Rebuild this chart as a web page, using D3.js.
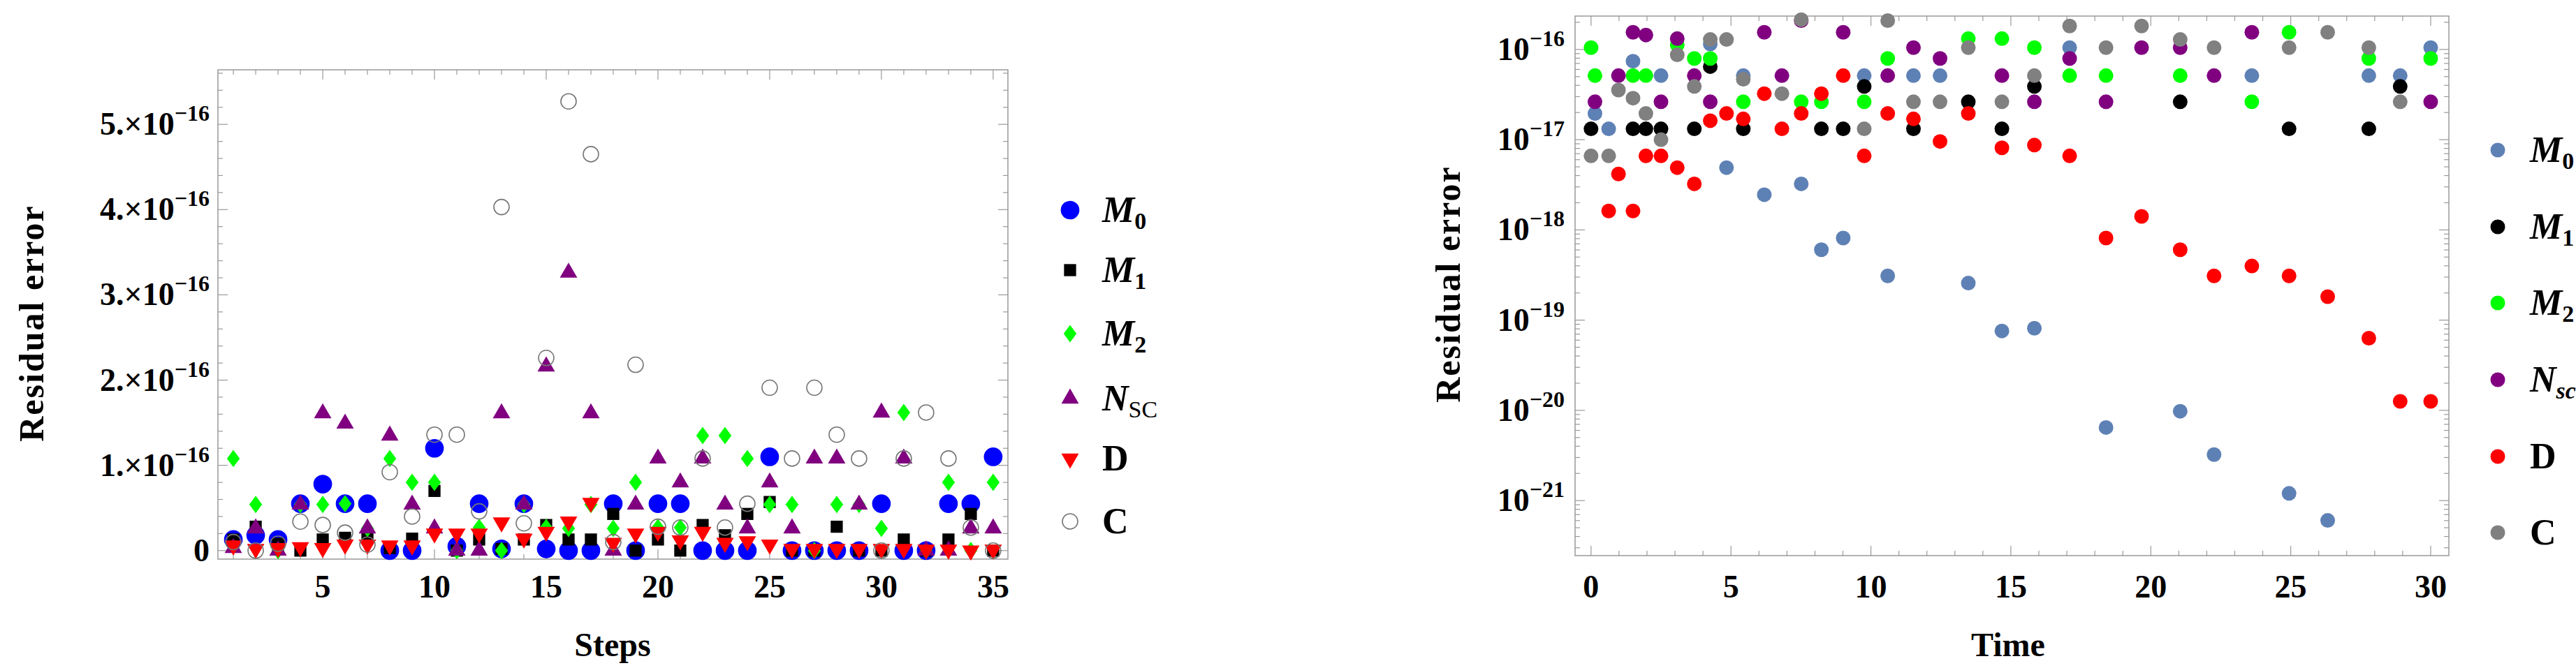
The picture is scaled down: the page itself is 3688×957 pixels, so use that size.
<!DOCTYPE html>
<html>
<head>
  <meta charset="utf-8" />
  <title>Residual error</title>
  <style>
    body { margin: 0; background: #fff; }
    text { font-family: "Liberation Serif", "DejaVu Serif", serif; font-weight: bold; }
  </style>
  <script src="https://cdnjs.cloudflare.com/ajax/libs/d3/7.8.5/d3.min.js"></script>
</head>
<body>
  <div id="chart"></div>
  <script>
    // ---- left panel: residual error vs step (linear, units of 1e-16)
    var steps = d3.range(1, 36);
    var stepM0 = [0.13,0.18,0.13,0.55,0.78,0.55,0.55,0,0,1.2,0.05,0.55,0.02,0.55,0.02,0,0,0.55,0,0.55,0.55,0,0,0,1.1,0,0,0,0,0.55,0,0,0.55,0.55,1.1];
    var stepM1 = [0.13,0.28,0.08,0,0.13,0.15,0.15,0.03,0.14,0.7,0,0.13,0.02,0.13,0.3,0.13,0.13,0.43,0,0.13,0,0.3,0.18,0.43,0.57,0,0,0.28,0,0,0.13,0,0.13,0.43,0];
    var stepM2 = [1.08,0.54,0,0.54,0.54,0.55,0.26,1.08,0.8,0.8,0,0.27,0,0.54,0.27,0.26,0.54,0.26,0.8,0.27,0.27,1.35,1.35,1.08,0.54,0.54,0,0.54,0.54,0.26,1.62,0,0.8,0,0.8];
    var stepNsc = [0.03,0.26,0,0.54,1.61,1.49,0.26,1.35,0.54,0.26,0,0,1.61,0.54,2.16,3.26,1.61,0,0.54,1.08,0.8,1.08,0.54,0.26,0.8,0.26,1.08,1.08,0.54,1.62,1.08,0,0,0.26,0.26];
    var stepD = [0.06,0.02,0.03,0.04,0.03,0.07,0.07,0.06,0.06,0.2,0.2,0.2,0.33,0.14,0.22,0.34,0.56,0.09,0.2,0.22,0.12,0.22,0.09,0.11,0.07,0.02,0.02,0.02,0.02,0.02,0.02,0.01,0.01,0,0.01];
    var stepC = [0.1,0,0.08,0.34,0.3,0.21,0.07,0.92,0.4,1.36,1.36,0.46,4.03,0.32,2.26,5.27,4.65,0.1,2.18,0.28,0.27,1.08,0.27,0.55,1.91,1.08,1.91,1.36,1.08,0,1.08,1.62,1.08,0.27,0];
    var leftYTicks = [0, 1, 2, 3, 4, 5];
    var leftXTicks = [5, 10, 15, 20, 25, 30, 35];

    // ---- right panel: residual error vs time (log10 of error)
    var times = [0,0.14,0.63,0.98,1.5,1.96,2.5,3.08,3.69,4.26,4.84,5.44,6.19,6.82,7.51,8.23,9.01,9.76,10.6,11.52,12.47,13.48,14.68,15.84,17.1,18.4,19.67,21.05,22.26,23.61,24.94,26.32,27.79,28.91,30];
    var n = null;
    var timeM0 = [n,-16.71,-16.88,n,-16.13,n,-16.29,n,n,-15.94,-17.31,-16.29,-17.61,n,-17.49,-18.22,-18.09,-16.29,-18.51,-16.29,-16.29,-18.59,-19.12,-19.09,-15.98,-20.19,n,-20.01,-20.49,-16.29,-20.92,-21.22,-16.29,-16.29,-15.98];
    var timeM1 = [-16.88,n,n,n,-16.88,-16.88,-16.88,n,-16.88,-16.19,n,-16.88,n,n,n,-16.88,-16.88,-16.41,n,-16.88,n,-16.58,-16.88,-16.41,n,n,n,-16.58,n,n,-16.88,n,-16.88,-16.41,n];
    var timeM2 = [-15.98,-16.29,n,n,-16.29,-16.29,n,-15.95,-16.1,-16.1,n,-16.58,n,n,-16.58,-16.58,n,-16.58,-16.1,n,n,-15.88,-15.88,-15.98,-16.29,-16.29,n,-16.29,n,-16.58,-15.81,n,-16.1,n,-16.1];
    var timeNsc = [n,-16.58,n,-16.29,-15.81,-15.84,-16.58,-15.88,-16.29,-16.58,n,n,-15.81,-16.29,-15.68,n,-15.81,n,-16.29,-15.98,-16.1,n,-16.29,-16.58,-16.1,-16.58,-15.98,-15.98,-16.29,-15.81,n,n,n,n,-16.58];
    var timeD = [n,n,-17.79,-17.38,-17.79,-17.18,-17.18,-17.31,-17.49,-16.79,-16.71,-16.77,-16.49,-16.88,-16.71,-16.49,-16.29,-17.18,-16.71,-16.77,-17.02,-16.71,-17.09,-17.06,-17.18,-18.09,-17.85,-18.22,-18.51,-18.4,-18.51,-18.74,-19.2,-19.9,-19.9];
    var timeC = [-17.18,n,-17.18,-16.45,-16.54,-16.71,-17.0,-16.06,-16.41,-15.89,-15.89,-16.33,n,-16.49,-15.67,n,n,-16.88,-15.68,-16.58,-16.58,-15.98,-16.58,-16.29,-15.74,-15.98,-15.74,-15.89,-15.98,n,-15.98,-15.81,-15.98,-16.58,n];
    var rightYTicks = [-16, -17, -18, -19, -20, -21];
    var rightXTicks = [0, 5, 10, 15, 20, 25, 30];

    var svg = d3.select('#chart').append('svg')
      .attr('width', 3688).attr('height', 957);

    function frame(g, x, y, xMinor, yMinor, xMajor, yMajor) {
      var x0 = x.range()[0], x1 = x.range()[1], y0 = y.range()[0], y1 = y.range()[1];
      g.append('rect').attr('x', x0).attr('y', y1).attr('width', x1 - x0).attr('height', y0 - y1)
        .attr('fill', 'none').attr('stroke', '#999').attr('stroke-width', 1.5);
      var tg = g.append('g').attr('stroke', '#999').attr('stroke-width', 1.2);
      xMinor.forEach(function (v) {
        var big = xMajor.indexOf(v) >= 0 ? 14 : 7, px = x(v);
        tg.append('line').attr('x1', px).attr('x2', px).attr('y1', y0).attr('y2', y0 - big);
        tg.append('line').attr('x1', px).attr('x2', px).attr('y1', y1).attr('y2', y1 + big);
      });
      yMinor.forEach(function (v) {
        var big = yMajor.indexOf(v) >= 0 ? 14 : 7, py = y(v);
        tg.append('line').attr('x1', x0).attr('x2', x0 + big).attr('y1', py).attr('y2', py);
        tg.append('line').attr('x1', x1).attr('x2', x1 - big).attr('y1', py).attr('y2', py);
      });
    }

    function legend(g, lx, items, yPos, drawMarker) {
      items.forEach(function (it, i) {
        var yy = yPos[i];
        drawMarker(g, it, lx, yy);
        var t = g.append('text').attr('x', lx + 46).attr('y', yy + 17).attr('font-size', 52);
        if (it.sub !== undefined) {
          t.append('tspan').attr('font-style', 'italic').text('M');
          t.append('tspan').attr('font-size', 34).attr('dy', 10).text(it.sub);
        } else {
          t.text(it.label);
        }
      });
    }

    // ================= LEFT =================
    var L = svg.append('g');
    var lx = d3.scaleLinear().domain([0.31, 35.66]).range([312, 1443]);
    var ly = d3.scaleLinear().domain([-0.1, 5.64]).range([801, 100]);
    frame(L, lx, ly, d3.range(1, 36), d3.range(0, 5.61, 0.2).map(function (v) { return +v.toFixed(1); }), leftXTicks, leftYTicks);

    L.selectAll('.xt').data(leftXTicks).enter().append('text')
      .attr('x', function (d) { return lx(d); }).attr('y', 856).attr('text-anchor', 'middle')
      .attr('font-size', 46).text(function (d) { return d; });
    leftYTicks.forEach(function (d) {
      var t = L.append('text').attr('x', 300).attr('y', ly(d) + 15).attr('text-anchor', 'end').attr('font-size', 46);
      if (d === 0) { t.text('0'); return; }
      t.append('tspan').text(d + '.\u00d710');
      t.append('tspan').attr('font-size', 32).attr('dy', -20).text('\u221216');
    });
    L.append('text').attr('x', 877).attr('y', 940).attr('text-anchor', 'middle').attr('font-size', 48).text('Steps');
    L.append('text').attr('transform', 'translate(62,463) rotate(-90)').attr('text-anchor', 'middle')
      .attr('font-size', 50).attr('letter-spacing', 2).text('Residual error');

    var leftSeries = [
      { vals: stepM0, shape: 'circle', color: '#0000ff', sub: '0' },
      { vals: stepM1, shape: 'square', color: '#000000', sub: '1' },
      { vals: stepM2, shape: 'diamond', color: '#00ff00', sub: '2' },
      { vals: stepNsc, shape: 'tri', color: '#800080', label: 'NSC' },
      { vals: stepD, shape: 'down', color: '#ff0000', label: 'D' },
      { vals: stepC, shape: 'open', color: '#888888', label: 'C' }
    ];
    var shapes = {
      circle: d3.symbol().type(d3.symbolCircle).size(560),
      square: d3.symbol().type(d3.symbolSquare).size(300),
      diamond: d3.symbol().type(d3.symbolDiamond2).size(300),
      tri: d3.symbol().type(d3.symbolTriangle).size(270),
      down: d3.symbol().type(d3.symbolTriangle).size(270),
      open: d3.symbol().type(d3.symbolCircle).size(380)
    };
    function marker(g, s, x, y) {
      var p = g.append('path').attr('d', shapes[s.shape]())
        .attr('transform', 'translate(' + x + ',' + y + ')' + (s.shape === 'down' ? ' rotate(180)' : '') + (s.shape === 'diamond' ? ' scale(0.85,1.15)' : ''));
      if (s.shape === 'open') p.attr('fill', 'none').attr('stroke', '#777').attr('stroke-width', 1.6);
      else p.attr('fill', s.color);
    }
    leftSeries.forEach(function (s) {
      var sg = L.append('g');
      steps.forEach(function (st, i) { marker(sg, s, lx(st), ly(s.vals[i])); });
    });
    legend(L, 1532, leftSeries, [301, 387, 478, 571, 657, 747], marker);
    L.selectAll('text').filter(function () { return this.textContent === 'NSC'; }).each(function () {
      var t = d3.select(this).text('');
      t.append('tspan').attr('font-style', 'italic').text('N');
      t.append('tspan').attr('font-size', 34).attr('dy', 10).attr('font-weight', 'normal').text('SC');
    });

    // ================= RIGHT =================
    var R = svg.append('g');
    var rx = d3.scaleLinear().domain([-0.57, 30.65]).range([2255, 3506]);
    var ry = d3.scaleLog().domain([Math.pow(10, -21.61), Math.pow(10, -15.63)]).range([796, 23]);
    var minorY = [];
    d3.range(-22, -15).forEach(function (e) {
      for (var k = 1; k < 10; k++) {
        var v = k * Math.pow(10, e);
        if (v >= ry.domain()[0] && v <= ry.domain()[1]) minorY.push(v);
      }
    });
    var majorY = rightYTicks.map(function (e) { return Math.pow(10, e); });
    frame(R, rx, ry, d3.range(0, 31), minorY.filter(function (v) { return majorY.every(function (m) { return Math.abs(m - v) / m > 1e-6; }); }).concat(majorY), rightXTicks, majorY);

    R.selectAll('.xt').data(rightXTicks).enter().append('text')
      .attr('x', function (d) { return rx(d); }).attr('y', 856).attr('text-anchor', 'middle')
      .attr('font-size', 46).text(function (d) { return d; });
    rightYTicks.forEach(function (e) {
      var t = R.append('text').attr('x', 2240).attr('y', ry(Math.pow(10, e)) + 15).attr('text-anchor', 'end').attr('font-size', 46);
      t.append('tspan').text('10');
      t.append('tspan').attr('font-size', 32).attr('dy', -20).text('\u2212' + (-e));
    });
    R.append('text').attr('x', 2875).attr('y', 940).attr('text-anchor', 'middle').attr('font-size', 48).text('Time');
    R.append('text').attr('transform', 'translate(2090,407) rotate(-90)').attr('text-anchor', 'middle')
      .attr('font-size', 50).attr('letter-spacing', 2).text('Residual error');

    var rightSeries = [
      { vals: timeM0, color: '#5e81b5', sub: '0' },
      { vals: timeM1, color: '#000000', sub: '1' },
      { vals: timeM2, color: '#00ff00', sub: '2' },
      { vals: timeNsc, color: '#800080', label: 'Nsc' },
      { vals: timeD, color: '#ff0000', label: 'D' },
      { vals: timeC, color: '#808080', label: 'C' }
    ];
    function dot(g, s, x, y) {
      g.append('circle').attr('cx', x).attr('cy', y).attr('r', 10.5).attr('fill', s.color);
    }
    rightSeries.forEach(function (s) {
      var sg = R.append('g');
      times.forEach(function (t, i) {
        if (s.vals[i] === null) return;
        dot(sg, s, rx(t), ry(Math.pow(10, s.vals[i])));
      });
    });
    legend(R, 3576, rightSeries, [215, 325, 434, 544, 654, 763], dot);
    R.selectAll('text').filter(function () { return this.textContent === 'Nsc'; }).each(function () {
      var t = d3.select(this).text('');
      t.append('tspan').attr('font-style', 'italic').text('N');
      t.append('tspan').attr('font-size', 34).attr('dy', 10).attr('font-style', 'italic').text('sc');
    });
  </script>
</body>
</html>
